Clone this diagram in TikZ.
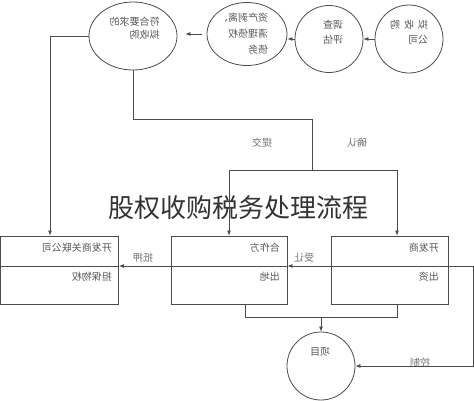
\documentclass[tikz,border=0pt]{standalone}
\usepackage{fontspec}
\usepackage{graphicx}
\newfontfamily\cjk{Noto Sans CJK SC}
\usetikzlibrary{shapes.geometric,arrows.meta}
\newcommand\mir[1]{\reflectbox{#1}}
\newcommand\mlines[2][15]{\reflectbox{\fontsize{10}{#1}\selectfont\begin{tabular}{@{}l@{}}#2\end{tabular}}}
\begin{document}
\begin{tikzpicture}[x=1pt,y=-1pt,
  ln/.style={draw=black!70,line width=0.8pt},
  arr/.style={ln,-{Latex[length=5pt,width=4pt]}},
  oval/.style={ln,ellipse,inner sep=0pt},
  boxx/.style={ln,rectangle,inner sep=0pt,minimum width=117pt,minimum height=68pt},
  txt/.style={inner sep=0pt,font=\cjk\fontsize{10}{15}\selectfont,text=black!65},
  lbl/.style={inner sep=0pt,font=\cjk\fontsize{10}{15}\selectfont,text=black!55}]
\useasboundingbox (0,0) rectangle (474,400);
\fill[white] (0,0) rectangle (474,400);
% ovals
\node[oval,minimum width=68pt,minimum height=68pt] (c4) at (409,39) {};
\node[oval,minimum width=68pt,minimum height=67pt] (c3) at (329,39) {};
\node[oval,minimum width=80pt,minimum height=63pt] (e2) at (247,34) {};
\node[oval,minimum width=88pt,minimum height=68pt] (e1) at (133,36) {};
\node[oval,minimum width=68pt,minimum height=68pt] (c5) at (321,366) {};
% boxes
\node[boxx,minimum width=118pt] (b1) at (59.5,270) {};
\node[boxx,minimum width=116pt] (b2) at (229,270) {};
\node[boxx,minimum width=117pt] (b3) at (389.5,270) {};
% texts in ovals
\node[txt] (t4) at (409,32.5) {\mlines{拟\hspace{4pt}收\hspace{4pt}购\\公司}};
\node[txt] (t3) at (333,32.5) {\mlines{调查\\评估}};
\node[txt] (t2) at (243,34) {\mlines[16]{资产剥离、\\清理债权\\债务}};
\node[txt] (t1) at (134.5,29) {\mlines[13]{符合要求的\\拟收购}};
\node[txt] (t5) at (320,352) {\mir{项目}};
% texts in boxes
\node[txt,anchor=east] (b1a) at (112,248) {\mir{开发商关联公司}};
\node[txt,anchor=east] (b1b) at (112,277) {\mir{担保物权}};
\node[txt,anchor=east] (b2a) at (280,248) {\mir{合作方}};
\node[txt,anchor=east] (b2b) at (280,277) {\mir{出地}};
\node[txt,anchor=east] (b3a) at (439,248) {\mir{开发商}};
\node[txt,anchor=east] (b3b) at (439,277) {\mir{出资}};
% labels
\node[lbl] (l1) at (262,143) {\mir{提交}};
\node[lbl] (l2) at (357,143) {\mir{确认}};
\node[lbl] (l3) at (304,258) {\mir{受让}};
\node[lbl] (l4) at (143,258) {\mir{抵押}};
\node[lbl] (l5) at (420,363) {\mir{控制}};
% title
\node[inner sep=0pt,font=\cjk\fontsize{26}{30}\selectfont,text=black!80] (title) at (238,208) {股权收购税务处理流程};
% coordinates
\coordinate (k1) at (50,38);
\coordinate (j1) at (312,119);
\coordinate (j2) at (312,170);
\coordinate (j3) at (397,170);
\coordinate (m1) at (245,317);
\coordinate (m2) at (397,317);
\coordinate (r1) at (473,266);
% top chain
\draw[arr] (c4.west) -- (c3.east);
\draw[arr] (c3.west) -- (c3.west -| e2.east);
\draw[arr,shorten <=5pt,shorten >=8pt] (e2.west) -- (e2.west -| e1.east);
\draw[arr] (e1.west) -- (e1.west -| k1) -- (k1 |- b1.north);
\draw[ln] (e1.south) |- (j1) -- (j2);
\draw[ln] (j2 -| b2.north) -- (j3);
\draw[arr] (j2 -| b2.north) -- (b2.north);
\draw[arr] (j3) -- (j3 |- b3.north);
% dividers
\draw[ln] (b1.west |- r1) -- (b1.east |- r1);
\draw[ln] (b2.west |- r1) -- (b2.east |- r1);
\draw[ln] (b3.west |- r1) -- (b3.east |- r1);
% between boxes
\draw[arr] (b3.west |- r1) -- (b2.east |- r1);
\draw[arr] (b2.west |- r1) -- (b1.east |- r1);
% bottom
\draw[ln] (m1 |- b2.south) -- (m1) -- (m2) -- (m2 |- b3.south);
\draw[arr] (c5.north |- m1) -- (c5.north);
\draw[arr] (b3.east |- r1) -- (r1) |- (c5.east);
\end{tikzpicture}
\end{document}
